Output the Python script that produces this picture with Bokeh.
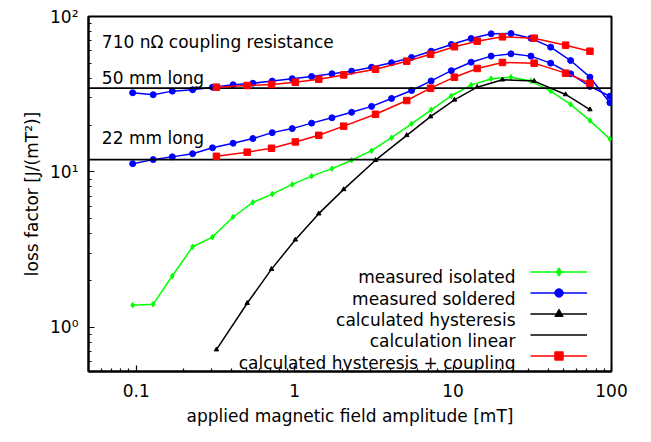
from bokeh.plotting import figure
from bokeh.models import FixedTicker, Label, Legend, LegendItem
from bokeh.embed import file_html
from bokeh.resources import INLINE

# ---------------- data ----------------
# field amplitude of the measurements [mT]
x_meas = [0.095, 0.128, 0.169, 0.227, 0.303, 0.409, 0.545, 0.722, 0.966, 1.28,
          1.72, 2.29, 3.06, 4.09, 5.47, 7.27, 9.75, 13.0, 17.4, 23.2,
          31.0, 41.3, 55.2, 73.1, 97.7]
measured_isolated = [1.39, 1.41, 2.14, 3.30, 3.81, 5.13, 6.37, 7.20, 8.31, 9.40,
                     10.5, 11.9, 13.7, 16.6, 20.4, 25.1, 30.9, 36.2, 39.8, 40.7,
                     38.4, 33.1, 27.2, 21.4, 16.3]
measured_soldered_50 = [32.3, 31.4, 33.1, 33.8, 35.1, 36.4, 37.2, 38.4, 39.8, 41.1,
                        42.8, 44.5, 47.2, 50.4, 54.5, 59.8, 66.1, 72.2, 77.4, 77.7,
                        72.5, 63.5, 52.1, 40.7, 27.9]
measured_soldered_22 = [11.3, 12.0, 12.5, 13.1, 14.3, 15.3, 16.4, 17.9, 19.0, 20.6,
                        22.3, 24.2, 26.4, 29.7, 33.4, 38.5, 44.8, 50.8, 55.6, 57.5,
                        55.6, 50.1, 42.8, 35.5, 30.7]
# field amplitude of the calculations [mT]
x_calc = [0.321, 0.502, 0.715, 1.01, 1.42, 2.04, 3.24, 5.1, 7.21, 10.2,
          14.2, 20.5, 32.5, 51.3, 73.1]
calculated_hysteresis = [0.719, 1.43, 2.37, 3.66, 5.39, 7.72, 11.9, 17.2, 22.7, 29.1,
                         35.1, 39.2, 38.4, 31.5, 25.2]
hyst_coupling_50 = [35.1, 36.0, 36.5, 37.8, 39.5, 42.1, 45.8, 51.6, 57.2, 63.9,
                    69.4, 74.0, 72.5, 65.4, 59.8]
hyst_coupling_22 = [12.6, 13.4, 14.2, 15.6, 17.2, 19.7, 23.5, 28.8, 34.6, 40.7,
                    46.3, 50.6, 50.1, 43.2, 37.2]
calculation_linear = [34.6, 12.0]

x_limits = (0.05, 100)
y_limits = (0.52, 100)

x_tick_values = [0.1, 1, 10, 100]
x_tick_labels = ["0.1", "1", "10", "100"]
x_minor = [0.06, 0.07, 0.08, 0.09,
           0.2, 0.3, 0.4, 0.5, 0.6, 0.7, 0.8, 0.9,
           2, 3, 4, 5, 6, 7, 8, 9,
           20, 30, 40, 50, 60, 70, 80, 90]
y_tick_values = [1, 10, 100]
y_tick_labels = ["10\u2070", "10\u00b9", "10\u00b2"]
y_minor = [0.6, 0.7, 0.8, 0.9, 2, 3, 4, 5, 6, 7, 8, 9,
           20, 30, 40, 50, 60, 70, 80, 90]

series_names = ["measured isolated", "measured soldered", "calculated hysteresis",
                "calculation linear", "calculated hysteresis + coupling"]

FONT = "DejaVu Sans"
FS = "17px"

# ---------------- figure ----------------
p = figure(x_axis_type="log", y_axis_type="log",
           x_range=x_limits, y_range=y_limits,
           frame_width=523, frame_height=355,
           min_border_left=88, min_border_right=25,
           min_border_top=16, min_border_bottom=64,
           output_backend="svg", toolbar_location=None)

p.xgrid.visible = False
p.ygrid.visible = False
p.outline_line_color = "black"
p.outline_line_width = 2
p.outline_line_alpha = 1.0
p.background_fill_color = "white"
p.border_fill_color = "white"

p.xaxis.ticker = FixedTicker(ticks=x_tick_values, minor_ticks=x_minor)
p.yaxis.ticker = FixedTicker(ticks=y_tick_values, minor_ticks=y_minor)
p.xaxis.major_label_overrides = dict(zip(x_tick_values, x_tick_labels))
p.yaxis.major_label_overrides = dict(zip(y_tick_values, y_tick_labels))

for ax in (p.xaxis[0], p.yaxis[0]):
    ax.axis_line_width = 2
    ax.axis_line_color = "black"
    ax.major_tick_in = 6
    ax.major_tick_out = 0
    ax.minor_tick_in = 3
    ax.minor_tick_out = 0
    ax.major_tick_line_width = 1.2
    ax.minor_tick_line_width = 1.2
    ax.major_tick_line_color = "black"
    ax.minor_tick_line_color = "black"
    ax.major_label_text_font = FONT
    ax.major_label_text_font_size = FS
    ax.major_label_text_color = "black"
    ax.axis_label_text_font = FONT
    ax.axis_label_text_font_size = FS
    ax.axis_label_text_font_style = "normal"
    ax.axis_label_text_color = "black"

p.xaxis.axis_label = "applied magnetic field amplitude [mT]"
p.yaxis.axis_label = "loss factor [J/(mT\u00b2)]"
p.xaxis.major_label_standoff = 12
p.yaxis.major_label_standoff = 10
p.xaxis.axis_label_standoff = 6
p.yaxis.axis_label_standoff = 5

LW = 1.5

# measured isolated
g_line = p.line(x_meas, measured_isolated, line_color="#00ff00", line_width=LW)
g_pts = p.scatter(x_meas, measured_isolated, marker="diamond", size=5.5,
                  fill_color="#00ff00", line_color="#00ff00")

# measured soldered (50 mm and 22 mm)
b_line = p.line(x_meas, measured_soldered_50, line_color="#0000ff", line_width=LW)
b_pts = p.scatter(x_meas, measured_soldered_50, marker="circle", size=6,
                  fill_color="#0000ff", line_color="#0000ff")
p.line(x_meas, measured_soldered_22, line_color="#0000ff", line_width=LW)
p.scatter(x_meas, measured_soldered_22, marker="circle", size=6,
          fill_color="#0000ff", line_color="#0000ff")

# calculated hysteresis
k_line = p.line(x_calc, calculated_hysteresis, line_color="black", line_width=LW)
k_pts = p.scatter(x_calc, calculated_hysteresis, marker="triangle", size=4.5,
                  fill_color="black", line_color="black")

# calculation linear (horizontal levels across the full x range)
lin = p.multi_line(xs=[list(x_limits) for _ in calculation_linear],
                   ys=[[v, v] for v in calculation_linear],
                   line_color="black", line_width=1.6)

# calculated hysteresis + coupling
r_line = p.line(x_calc, hyst_coupling_50, line_color="#ff0000", line_width=LW)
r_pts = p.scatter(x_calc, hyst_coupling_50, marker="square", size=6.5,
                  fill_color="#ff0000", line_color="#ff0000")
p.line(x_calc, hyst_coupling_22, line_color="#ff0000", line_width=LW)
p.scatter(x_calc, hyst_coupling_22, marker="square", size=6.5,
          fill_color="#ff0000", line_color="#ff0000")

# text annotations (data coordinates)
for txt, yy in [("710 n\u03a9 coupling resistance", 68.4),
                ("50 mm long", 40.5),
                ("22 mm long", 16.5)]:
    p.add_layout(Label(x=0.0607, y=yy, text=txt, text_font=FONT,
                       text_font_size=FS, text_color="black",
                       text_baseline="alphabetic", text_align="left"))

# legend: glyph samples from Bokeh legend, texts right-aligned to the left
legend = Legend(items=[LegendItem(label=" ", renderers=[g_line, g_pts]),
                       LegendItem(label=" ", renderers=[b_line, b_pts]),
                       LegendItem(label=" ", renderers=[k_line, k_pts]),
                       LegendItem(label=" ", renderers=[lin]),
                       LegendItem(label=" ", renderers=[r_line, r_pts])],
                location=(442, 5), orientation="vertical",
                padding=0, margin=0, spacing=0,
                glyph_width=57, glyph_height=21, label_height=21,
                label_width=1, label_standoff=0,
                border_line_color=None, background_fill_alpha=0,
                label_text_font_size="1px")
p.add_layout(legend)

row_baselines = [94.3, 72.9, 51.5, 30.1, 8.7]
for name, yb in zip(series_names, row_baselines):
    p.add_layout(Label(x=427, y=yb, x_units="screen", y_units="screen",
                       text=name, text_font=FONT, text_font_size=FS,
                       text_color="black", text_align="right",
                       text_baseline="alphabetic"))

open("out.html", "w").write(file_html(p, INLINE))
